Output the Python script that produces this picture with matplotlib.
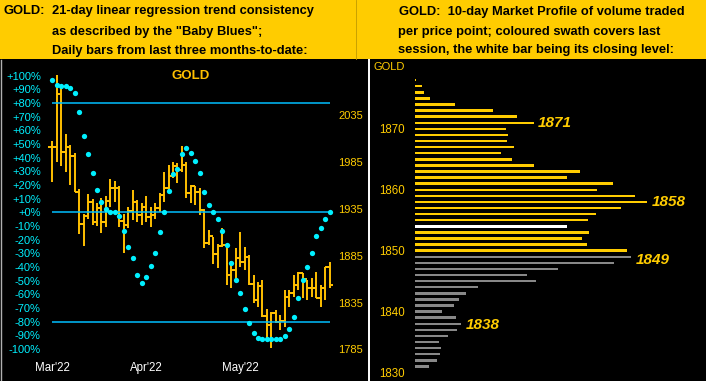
import matplotlib
matplotlib.use("Agg")
import matplotlib.pyplot as plt
from matplotlib.lines import Line2D
from matplotlib.patches import Rectangle

plt.rcParams['font.family'] = ['Liberation Sans', 'DejaVu Sans']

W, H = 706, 381

# --- left chart: daily bars (price) and "Baby Blues" (percent) ---
highs = [2007.7, 2078.2, 2067.5, 2015.1, 2003.4, 1994.5, 1956.4, 1929.7, 1951.0, 1945.7,
         1941.1, 1946.4, 1948.9, 1967.1, 1964.9, 1959.6, 1929.7, 1937.5, 1955.3, 1944.6,
         1941.1, 1948.9, 1936.8, 1941.1, 1951.8, 1974.9, 1982.0, 1985.6, 1983.8, 2002.3,
         1985.6, 1960.7, 1959.6, 1957.1, 1934.6, 1912.6, 1905.0, 1897.6, 1915.0, 1898.0,
         1879.0, 1893.5, 1910.8, 1894.8, 1885.9, 1864.5, 1857.4, 1859.2, 1828.2, 1825.3,
         1827.1, 1821.7, 1848.5, 1848.5, 1864.5, 1868.1, 1866.3, 1859.2, 1860.9, 1867.3,
         1853.8, 1873.4, 1878.7]
lows = [1964.2, 1985.6, 1981.3, 1974.9, 1960.6, 1953.5, 1908.6, 1895.8, 1924.3, 1917.9,
        1917.2, 1909.7, 1916.1, 1937.5, 1942.8, 1916.1, 1888.3, 1915.1, 1923.3, 1921.5,
        1917.9, 1921.5, 1916.1, 1924.0, 1932.2, 1942.8, 1953.5, 1967.8, 1963.1, 1974.9,
        1946.4, 1941.1, 1939.3, 1928.6, 1893.0, 1896.5, 1876.0, 1871.6, 1894.8, 1853.8,
        1850.2, 1859.0, 1873.4, 1869.8, 1853.8, 1834.2, 1830.7, 1820.0, 1795.0, 1786.1,
        1812.9, 1805.7, 1809.3, 1830.7, 1841.4, 1848.5, 1839.6, 1837.8, 1841.4, 1839.6,
        1830.7, 1837.8, 1850.2]
closes = [2001.6, 2057.9, 1996.3, 2001.6, 1992.0, 1953.5, 1919.3, 1927.9, 1942.8, 1921.5,
          1936.4, 1921.5, 1943.5, 1957.8, 1957.8, 1922.5, 1917.9, 1933.2, 1942.8, 1928.6,
          1937.5, 1926.8, 1928.6, 1935.7, 1950.0, 1957.1, 1970.3, 1981.0, 1976.7, 1982.0,
          1951.8, 1959.6, 1953.5, 1933.9, 1899.0, 1906.2, 1887.0, 1895.8, 1897.0, 1864.0,
          1869.5, 1882.8, 1878.0, 1884.1, 1854.5, 1837.8, 1852.7, 1821.0, 1811.1, 1824.2,
          1814.6, 1815.7, 1841.4, 1845.6, 1853.8, 1866.3, 1859.9, 1850.2, 1850.2, 1840.3,
          1850.2, 1873.4, 1853.8]
blues = [96.8, 93.1, 92.6, 92.4, 90.9, 87.3, 73.4, 55.8, 42.6, 28.7,
         16.3, 7.5, 2.4, 0.2, 0.2, -2.7, -13.7, -25.4, -33.4, -45.6,
         -51.5, -47.1, -39.1, -29.6, -14.2, 0.4, 15.8, 28.2, 31.9, 42.9,
         47.3, 43.6, 37.7, 29.0, 15.1, 5.6, 0.4, -4.7, -13.5, -23.7,
         -36.9, -49.3, -58.8, -70.7, -80.8, -88.1, -91.7, -92.5, -92.5, -92.5,
         -92.5, -92.5, -90.3, -85.1, -76.4, -62.5, -49.3, -39.8, -29.6, -17.1,
         -11.3, -4.9, 0.4]
month_pos = [0, 21, 42]
month_labels = ["Mar'22", "Apr'22", "May'22"]
price_ticks = [1785, 1835, 1885, 1935, 1985, 2035]
pct_ticks = list(range(-100, 101, 10))

# --- right chart: 10-day market profile ---
profile_prices = list(range(1878, 1830, -1))
profile_vols = [1, 7, 9, 15, 40, 78, 102, 119, 91, 93,
                92, 99, 86, 97, 119, 165, 152, 198, 182, 220,
                232, 206, 181, 173, 152, 174, 167, 172, 212, 216,
                199, 143, 112, 121, 63, 51, 44, 39, 27, 41,
                46, 42, 33, 24, 26, 25, 22, 14]
session_low, session_high, close_level = 1850, 1878, 1854
profile_ticks = [1830, 1840, 1850, 1860, 1870]
callouts = [(1871, 123, 1871), (1858, 237, 1858), (1849, 221, 1848.5), (1838, 51, 1837.8)]

GOLD = '#FFCC00'
BAR = '#FFC000'
CYAN = '#00F0FF'
LINE = '#00BFFF'


def box(x0, y0, x1, y1):
    return [x0 / W, 1 - y1 / H, (x1 - x0) / W, (y1 - y0) / H]


fig = plt.figure(figsize=(W / 100, H / 100), dpi=100, facecolor='black')

# header
fig.patches.append(Rectangle((0, 1 - 59 / H), 1, 59 / H, transform=fig.transFigure,
                             facecolor=GOLD, edgecolor='none', zorder=0))
fig.add_artist(Line2D([356 / W] * 2, [1 - 59 / H, 1], color='#C09A00', lw=0.6))
hdr = dict(fontsize=9.3, fontweight='bold', color='black', va='center')
fig.text(4 / W, 1 - 11 / H, "GOLD:", **hdr)
fig.text(52 / W, 1 - 11 / H, "21-day linear regression trend consistency", **hdr)
fig.text(52 / W, 1 - 31.5 / H, 'as described by the "Baby Blues";', **hdr)
fig.text(52 / W, 1 - 51 / H, "Daily bars from last three months-to-date:", **hdr)
fig.text(399 / W, 1 - 11.5 / H, "GOLD:  10-day Market Profile of volume traded", **hdr)
fig.text(398 / W, 1 - 31.5 / H, "per price point; coloured swath covers last", **hdr)
fig.text(398 / W, 1 - 50.5 / H, "session, the white bar being its closing level:", **hdr)

# left chart
ax = fig.add_axes(box(45, 65, 334, 352))
ax.set_facecolor('none')
ax.set_xlim(-1.63, 63.0)
ax.set_ylim(-102.2, 107.8)
ax.set_yticks(pct_ticks)
ax.set_yticklabels([f"{v:+d}%" for v in pct_ticks])
ax.tick_params(axis='y', length=0, pad=3, labelsize=8, labelcolor=CYAN)
ax.set_xticks(month_pos)
ax.set_xticklabels(month_labels)
ax.tick_params(axis='x', length=0, pad=7, labelsize=8.3, labelcolor='white')
for s in ax.spines.values():
    s.set_visible(False)

axp = ax.twinx()
axp.set_ylim(1782.2, 2088.8)
axp.set_yticks(price_ticks)
axp.set_yticklabels([str(p) for p in price_ticks])
axp.tick_params(axis='y', length=0, pad=3, labelsize=8, labelcolor=GOLD)
for s in axp.spines.values():
    s.set_visible(False)

xs = list(range(len(closes)))
opens = [closes[0]] + closes[:-1]
axp.vlines(xs, lows, highs, color=BAR, lw=1.4)
axp.hlines(closes, [x for x in xs], [x + 0.85 for x in xs], color=BAR, lw=1.4)
axp.hlines(opens, [x - 0.85 for x in xs], [x for x in xs], color=BAR, lw=1.4)

ax3 = ax.twinx()
ax3.set_ylim(ax.get_ylim())
ax3.set_yticks([])
for s in ax3.spines.values():
    s.set_visible(False)
for lvl in (80, 0, -80):
    ax3.hlines(lvl, 0, len(blues) - 1, color=LINE, lw=1.1)
ax3.plot(xs, blues, 'o', color=CYAN, ms=3.8, mec='none')

fig.text(191 / W, 1 - 76 / H, "GOLD", color=BAR, fontsize=9.5, fontweight='bold',
         ha='center', va='center')

fig.add_artist(Line2D([0.7 / W] * 2, [0, 1 - 60 / H], color='#B0B0B0', lw=1))
fig.add_artist(Line2D([369 / W] * 2, [0, 1 - 60 / H], color='white', lw=1.4))

# right chart
axr = fig.add_axes(box(415, 60, 706, 381))
axr.set_facecolor('none')
axr.set_xlim(0, 291)
axr.set_ylim(1828.6, 1881.3)
colors = []
for p in profile_prices:
    if p == close_level:
        colors.append('white')
    elif session_low <= p <= session_high:
        colors.append(GOLD)
    else:
        colors.append('#888888')
axr.barh(profile_prices, profile_vols, height=0.4, color=colors, left=0)
axr.set_yticks(profile_ticks)
axr.set_yticklabels([str(p) for p in profile_ticks])
axr.tick_params(axis='y', length=0, pad=7.5, labelsize=8.3, labelcolor=GOLD)
axr.set_xticks([])
for s in axr.spines.values():
    s.set_visible(False)
for lab, xv, yv in callouts:
    axr.text(xv, yv, str(lab), color=GOLD, fontsize=11, fontweight='bold',
             fontstyle='italic', ha='left', va='center')
fig.text(405 / W, 1 - 67 / H, "GOLD", color=GOLD, fontsize=8, ha='right', va='center')

fig.savefig("out.png", dpi=100, facecolor='black')
